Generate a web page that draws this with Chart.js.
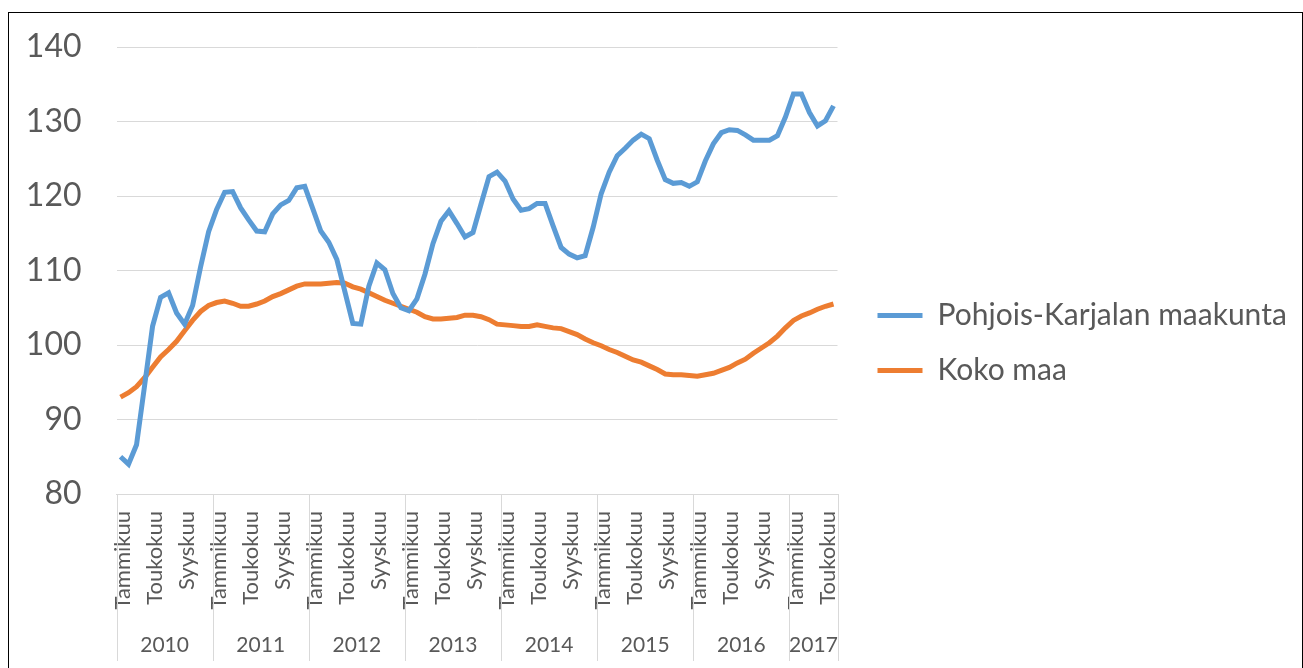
<!DOCTYPE html>
<html>
<head>
<meta charset="utf-8">
<script src="https://cdn.jsdelivr.net/npm/chart.js@4"></script>
<style>
  html, body { margin: 0; padding: 0; background: #fff; overflow: hidden; }
  #box { position: absolute; left: 8px; top: 12px; width: 1293px; height: 680px; border: 1.5px solid #000; }
  canvas { display: block; }
</style>
</head>
<body>
<div id="box"><canvas id="chart" width="1293" height="680"></canvas></div>
<script>
const years = [2010, 2011, 2012, 2013, 2014, 2015, 2016, 2017];
const monthNames = ['Tammikuu', 'Helmikuu', 'Maaliskuu', 'Huhtikuu', 'Toukokuu', 'Kesäkuu',
  'Heinäkuu', 'Elokuu', 'Syyskuu', 'Lokakuu', 'Marraskuu', 'Joulukuu'];
const shownMonths = [0, 4, 8]; // only every 4th month gets a label
const yTicks = [80, 90, 100, 110, 120, 130, 140];

// Jan 2010 - Jun 2017, monthly
const pohjoisKarjala = [
  85.0, 84.0, 86.6, 94.5, 102.5, 106.4, 107.0, 104.3, 102.8, 105.3, 110.5, 115.2,
  118.2, 120.5, 120.6, 118.4, 116.8, 115.3, 115.2, 117.6, 118.8, 119.4, 121.1, 121.3,
  118.3, 115.3, 113.8, 111.5, 107.2, 102.9, 102.8, 107.9, 111.0, 110.1, 106.9, 105.0,
  104.6, 106.2, 109.5, 113.6, 116.6, 118.0, 116.3, 114.5, 115.1, 118.9, 122.6, 123.2,
  122.0, 119.6, 118.1, 118.3, 119.0, 119.0, 116.0, 113.1, 112.2, 111.7, 112.0, 115.8,
  120.3, 123.2, 125.4, 126.4, 127.5, 128.3, 127.7, 124.8, 122.2, 121.7, 121.8, 121.3,
  121.9, 124.7, 127.0, 128.5, 128.9, 128.8, 128.2, 127.5, 127.5, 127.5, 128.1, 130.6,
  133.7, 133.7, 131.2, 129.4, 130.1, 132.1
];
const kokoMaa = [
  93.0, 93.6, 94.4, 95.6, 97.0, 98.4, 99.4, 100.5, 101.9, 103.3, 104.5, 105.3,
  105.7, 105.9, 105.6, 105.2, 105.2, 105.5, 105.9, 106.5, 106.9, 107.4, 107.9, 108.2,
  108.2, 108.2, 108.3, 108.4, 108.3, 107.8, 107.5, 107.0, 106.5, 106.0, 105.6, 105.2,
  104.8, 104.4, 103.8, 103.5, 103.5, 103.6, 103.7, 104.0, 104.0, 103.8, 103.4, 102.8,
  102.7, 102.6, 102.5, 102.5, 102.7, 102.5, 102.3, 102.2, 101.8, 101.4, 100.8, 100.3,
  99.9, 99.4, 99.0, 98.5, 98.0, 97.7, 97.2, 96.7, 96.1, 96.0, 96.0, 95.9,
  95.8, 96.0, 96.2, 96.6, 97.0, 97.6, 98.1, 98.9, 99.6, 100.3, 101.2, 102.3,
  103.3, 103.9, 104.3, 104.8, 105.2, 105.5
];

const labels = [];
years.forEach(y => monthNames.forEach(m => {
  if (labels.length < pohjoisKarjala.length) labels.push(m);
}));

const textColor = '#595959';
const gridColor = '#d9d9d9';

// second row of the category axis: years with separators
const yearAxis = {
  id: 'yearAxis',
  afterDraw(chart) {
    const ctx = chart.ctx;
    const x = chart.scales.x;
    const area = chart.chartArea;
    const half = (x.getPixelForValue(1) - x.getPixelForValue(0)) / 2;
    ctx.save();
    ctx.strokeStyle = gridColor;
    ctx.lineWidth = 1;
    ctx.fillStyle = textColor;
    ctx.font = '21px Lato';
    ctx.textAlign = 'center';
    ctx.textBaseline = 'middle';
    years.forEach((yr, k) => {
      const first = k * 12;
      const last = Math.min(first + 11, labels.length - 1);
      const x0 = x.getPixelForValue(first) - half;
      const x1 = x.getPixelForValue(last) + half;
      [x0, x1].forEach(px => {
        ctx.beginPath();
        ctx.moveTo(Math.round(px) + 0.5, area.bottom);
        ctx.lineTo(Math.round(px) + 0.5, 648);
        ctx.stroke();
      });
      ctx.fillText(String(yr), (x0 + x1) / 2, 632);
    });
    ctx.restore();
  }
};

// nudge the legend a bit away from the plot and up
const legendShift = {
  id: 'legendShift',
  afterLayout(chart) {
    const lg = chart.legend;
    lg.left += 15;
    lg.right = chart.width;
    lg.top -= 27;
    lg.bottom -= 27;
  }
};

new Chart(document.getElementById('chart'), {
  type: 'line',
  data: {
    labels: labels,
    datasets: [
      {
        label: 'Pohjois-Karjalan maakunta',
        data: pohjoisKarjala,
        borderColor: '#5B9BD5',
        backgroundColor: '#5B9BD5',
        borderWidth: 5,
        pointRadius: 0,
        pointStyle: 'line',
        tension: 0
      },
      {
        label: 'Koko maa',
        data: kokoMaa,
        borderColor: '#ED7D31',
        backgroundColor: '#ED7D31',
        borderWidth: 5,
        pointRadius: 0,
        pointStyle: 'line',
        tension: 0
      }
    ]
  },
  options: {
    responsive: false,
    animation: false,
    layout: { padding: { top: 34, right: 44.5, bottom: 0, left: 0 } },
    plugins: {
      tooltip: { enabled: false },
      legend: {
        position: 'right',
        maxWidth: 420,
        labels: {
          usePointStyle: true,
          pointStyleWidth: 45,
          boxHeight: 4,
          padding: 25,
          color: textColor,
          font: { family: 'Lato', size: 30 }
        }
      }
    },
    scales: {
      x: {
        offset: true,
        grid: { display: false, drawTicks: false },
        border: { color: gridColor, width: 1 },
        ticks: {
          autoSkip: false,
          minRotation: 90,
          maxRotation: 90,
          padding: 17,
          labelOffset: 2,
          color: textColor,
          font: { family: 'Lato', size: 22 },
          callback: (v, i) => shownMonths.includes(i % 12) ? labels[i] : ''
        },
        afterFit: s => { s.height = 199; }
      },
      y: {
        min: yTicks[0],
        max: yTicks[yTicks.length - 1],
        afterBuildTicks: s => { s.ticks = yTicks.map(v => ({ value: v })); },
        grid: { color: gridColor, drawTicks: true, tickLength: 35, tickColor: 'rgba(0,0,0,0)' },
        border: { display: false },
        ticks: {
          padding: 0,
          color: textColor,
          font: { family: 'Lato', size: 32 }
        },
        afterFit: s => { s.width = 107.5; }
      }
    }
  },
  plugins: [yearAxis, legendShift]
});
</script>
</body>
</html>
